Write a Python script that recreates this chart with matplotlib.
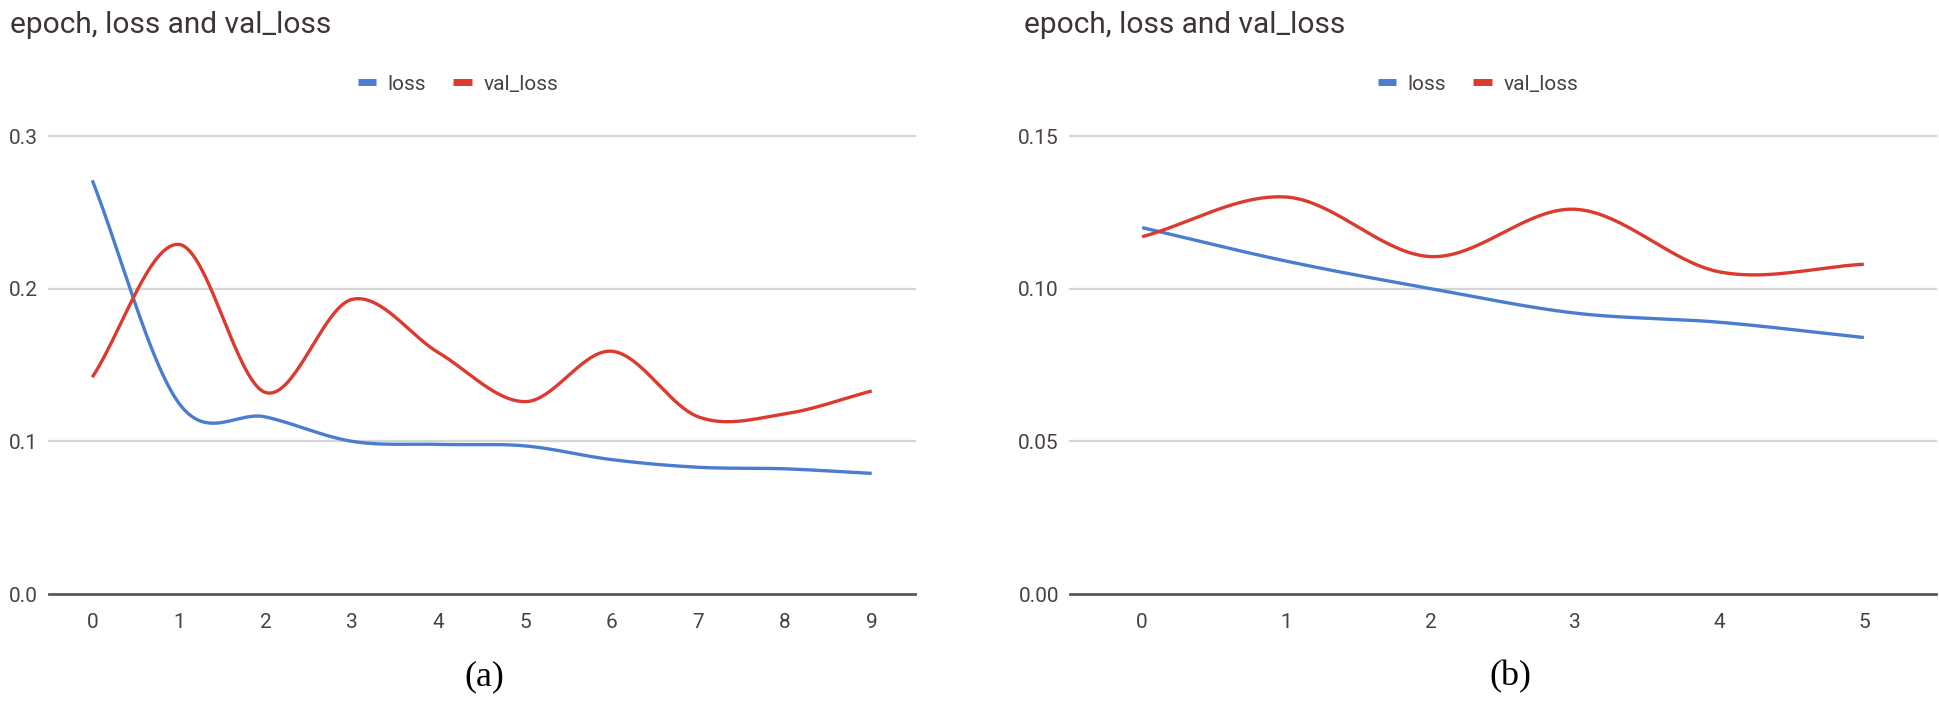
import numpy as np
import matplotlib
matplotlib.use("Agg")
import matplotlib.pyplot as plt
from matplotlib.lines import Line2D

plt.rcParams['font.family'] = ['Roboto', 'DejaVu Sans']

# ---- data ----
title = "epoch, loss and val_loss"
epochs_a = [0, 1, 2, 3, 4, 5, 6, 7, 8, 9]
loss_a = [0.271, 0.125, 0.116, 0.100, 0.098, 0.097, 0.088, 0.083, 0.082, 0.079]
val_loss_a = [0.142, 0.229, 0.132, 0.193, 0.158, 0.126, 0.159, 0.116, 0.118, 0.133]
yticks_a = [0.0, 0.1, 0.2, 0.3]
ytick_labels_a = ["0.0", "0.1", "0.2", "0.3"]

epochs_b = [0, 1, 2, 3, 4, 5]
loss_b = [0.120, 0.109, 0.100, 0.092, 0.089, 0.084]
val_loss_b = [0.117, 0.130, 0.1105, 0.126, 0.1055, 0.108]
yticks_b = [0.0, 0.05, 0.10, 0.15]
ytick_labels_b = ["0.00", "0.05", "0.10", "0.15"]

series_names = ["loss", "val_loss"]
panel_labels = ["(a)", "(b)"]

BLUE = '#4a7dcf'
RED = '#db3a2f'
TEXT = '#4a4242'


def smooth(x, y, n=40):
    x = np.asarray(x, float)
    y = np.asarray(y, float)
    m = np.zeros_like(y)
    m[1:-1] = (y[2:] - y[:-2]) / (x[2:] - x[:-2])
    m[0] = (y[1] - y[0]) / (x[1] - x[0])
    m[-1] = (y[-1] - y[-2]) / (x[-1] - x[-2])
    xs, ys = [], []
    for i in range(len(x) - 1):
        h = x[i + 1] - x[i]
        t = np.linspace(0, 1, n, endpoint=(i == len(x) - 2))
        h00 = 2 * t**3 - 3 * t**2 + 1
        h10 = t**3 - 2 * t**2 + t
        h01 = -2 * t**3 + 3 * t**2
        h11 = t**3 - t**2
        xs.append(x[i] + t * h)
        ys.append(h00 * y[i] + h10 * h * m[i] + h01 * y[i + 1] + h11 * h * m[i + 1])
    return np.concatenate(xs), np.concatenate(ys)


W, H = 1940, 711
fig = plt.figure(figsize=(W / 100, H / 100), dpi=100)

top_px, bot_px = 136, 594
panels = [
    dict(left=49, right=915, ep=epochs_a, loss=loss_a, val=val_loss_a,
         yt=yticks_a, ytl=ytick_labels_a, title_x=10, leg_x=458, lab_x=484),
    dict(left=1070, right=1936, ep=epochs_b, loss=loss_b, val=val_loss_b,
         yt=yticks_b, ytl=ytick_labels_b, title_x=1024, leg_x=1478, lab_x=1510),
]

for k, p in enumerate(panels):
    ax = fig.add_axes([p['left'] / W, 1 - bot_px / H, (p['right'] - p['left']) / W,
                       (bot_px - top_px) / H])
    for s in ax.spines.values():
        s.set_visible(False)
    ax.set_xlim(-0.5, len(p['ep']) - 0.5)
    ax.set_ylim(p['yt'][0], p['yt'][-1])
    for v in p['yt'][1:]:
        ax.axhline(v, color='#d6d6d6', lw=1.6, zorder=0, clip_on=False)
    ax.axhline(p['yt'][0], color='#5a5a5a', lw=2.0, zorder=3, clip_on=False)

    xs, ys = smooth(p['ep'], p['loss'])
    ax.plot(xs, ys, color=BLUE, lw=2.4, solid_capstyle='butt', zorder=2, clip_on=False)
    xs, ys = smooth(p['ep'], p['val'])
    ax.plot(xs, ys, color=RED, lw=2.4, solid_capstyle='butt', zorder=2, clip_on=False)

    ax.set_xticks(p['ep'])
    ax.set_xticklabels([str(e) for e in p['ep']])
    ax.set_yticks(p['yt'])
    ax.set_yticklabels(p['ytl'])
    ax.tick_params(axis='x', length=0, pad=14, labelsize=15, labelcolor=TEXT)
    ax.tick_params(axis='y', length=0, pad=8, labelsize=15, labelcolor=TEXT)

    fig.text(p['title_x'] / W, 1 - 33 / H, title, fontsize=21.5, color='#3d3535',
             ha='left', va='baseline')

    handles = [Line2D([], [], color=BLUE, lw=5, solid_capstyle='butt'),
               Line2D([], [], color=RED, lw=5, solid_capstyle='butt')]
    leg = fig.legend(handles, series_names, loc='center',
                     bbox_to_anchor=(p['leg_x'] / W, 1 - 84 / H), ncol=2, frameon=False,
                     fontsize=15, handlelength=0.9, handletextpad=0.55, columnspacing=1.3)
    for t in leg.get_texts():
        t.set_color(TEXT)

    fig.text(p['lab_x'] / W, 1 - 677 / H, panel_labels[k], fontsize=26,
             family='Liberation Serif', color='black', ha='center', va='center')

fig.savefig('out.png', dpi=100, facecolor='white')
